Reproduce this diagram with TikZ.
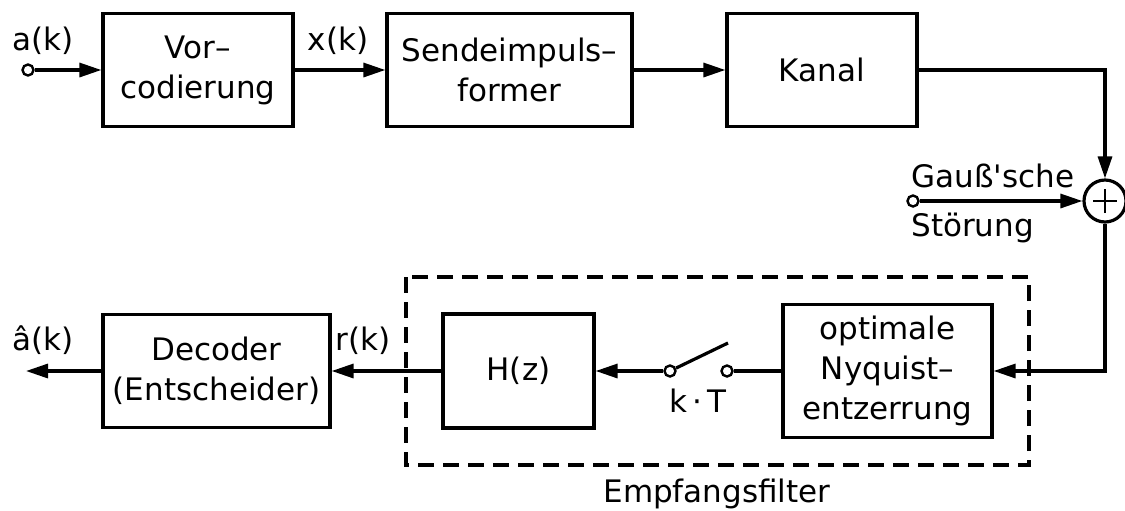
\documentclass[tikz,border=0pt]{standalone}
\usepackage{fontspec}
\setmainfont{DejaVu Sans}
\usetikzlibrary{arrows.meta}

\tikzset{
	block/.style={draw, line width=1.6pt, align=center, inner sep=0pt},
	sig/.style={line width=1.6pt},
	arr/.style={sig, -{Triangle[length=11pt,width=7pt]}},
	port/.style={circle, draw, line width=1.2pt, fill=white, inner sep=0pt, minimum size=5.5pt},
	adder/.style={circle, draw, line width=1.6pt, inner sep=0pt, minimum size=21pt,
		path picture={
			\draw[line width=1.3pt] ([xshift=-6pt]path picture bounding box.center) -- ([xshift=6pt]path picture bounding box.center);
			\draw[line width=1.3pt] ([yshift=-6pt]path picture bounding box.center) -- ([yshift=6pt]path picture bounding box.center);
		}},
	lbl/.style={inner sep=0pt, anchor=base},
}

\begin{document}
\begin{tikzpicture}[x=0.5pt,y=-0.5pt,font=\fontsize{15.5}{20}\selectfont]
		\useasboundingbox (0,0) rectangle (1125,510);
		
		% sender side
		\node[port] (ain) at (28,70) {};
		\node[block, minimum width=95pt, minimum height=56.5pt] (vorcod) at (198,70) {Vor–\\codierung};
		\node[block, minimum width=122.5pt, minimum height=56.5pt] (sif) at (509.5,70) {Sendeimpuls–\\former};
		\node[block, minimum width=95pt, minimum height=56.5pt] (kanal) at (822,70) {Kanal};
		\node[lbl] (ak) at (43,50) {a(k)};
		\node[lbl] (xk) at (338,50) {x(k)};
		\draw[arr] (ain) -- (vorcod.west);
		\draw[arr] (vorcod.east) -- (sif.west);
		\draw[arr] (sif.east) -- (kanal.west);
		
		% noise
		\node[adder] (sum) at (1105,201) {};
		\node[port] (nin) at (913,201) {};
		\node[lbl, anchor=base west] (gauss) at (911,187) {Gauß\textquotesingle sche};
		\node[lbl, anchor=base west] (stoer) at (911,236) {Störung};
		\draw[arr] (kanal.east) -| (sum.north);
		\draw[arr] (nin) -- (sum.west);
		
		% receiver side
		\node[block, minimum width=104.5pt, minimum height=66.5pt] (nyq) at (887.5,371) {optimale\\Nyquist–\\entzerrung};
		\node[port] (swr) at (727,371) {};
		\node[port] (swl) at (670,371) {};
		\coordinate (lever) at (728,343);
		\node[lbl] (kt) at (698,412) {k\,·\,T};
		\node[block, minimum width=75.5pt, minimum height=57pt] (hz) at (518.5,371) {H(z)};
		\node[block, minimum width=113.5pt, minimum height=56.5pt] (dec) at (216.5,371) {Decoder\\(Entscheider)};
		\coordinate (aout) at (26,371);
		\node[lbl] (ahat) at (43,350) {â(k)};
		\node[lbl] (rk) at (363,350) {r(k)};
		\draw[arr] (sum.south) |- (nyq.east);
		\draw[sig] (nyq.west) -- (swr);
		\draw[sig] (swl) -- (lever);
		\draw[arr] (swl) -- (hz.west -| hz.east);
		\draw[arr] (hz.west) -- (dec.east);
		\draw[arr] (dec.west) -- (aout);
		
		% receive filter frame
		\draw[line width=1.6pt, dash pattern=on 8pt off 4.5pt] (406,277) rectangle (1029,465);
		\node[lbl] (empf) at (717,502) {Empfangsfilter};
		\end{tikzpicture}
\end{document}
